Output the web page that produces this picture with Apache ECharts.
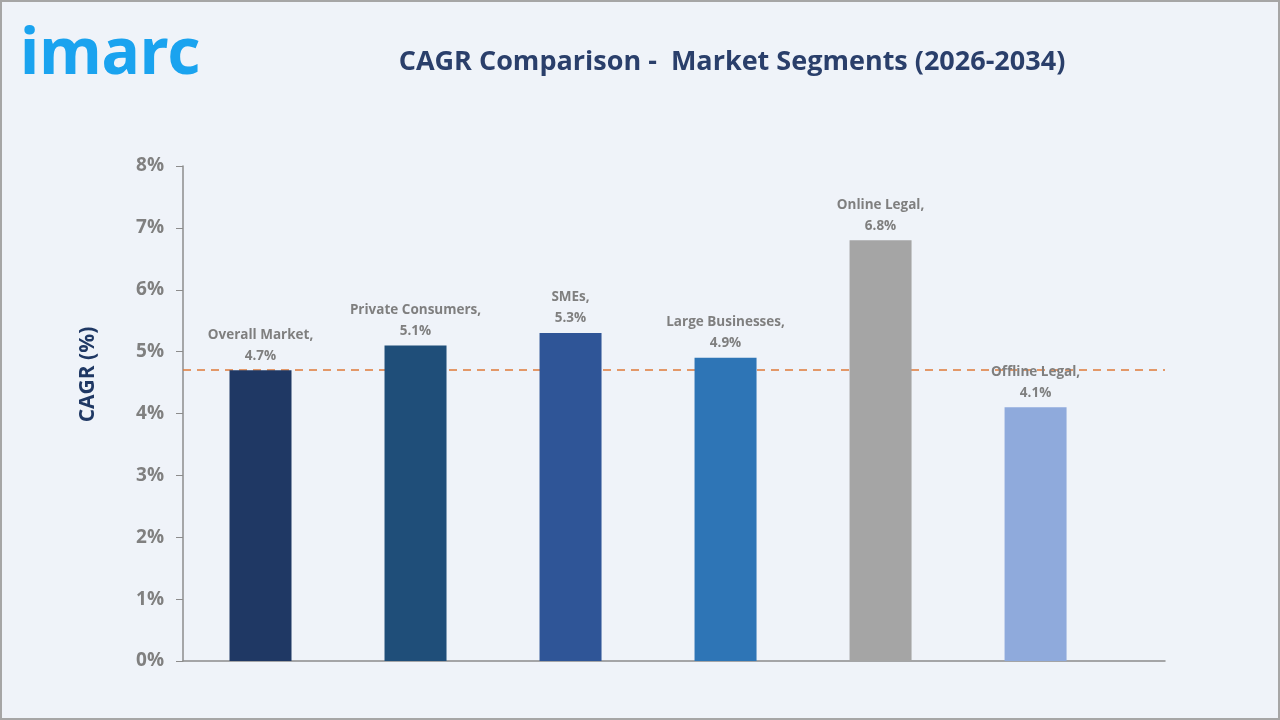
<!DOCTYPE html>
<html>
<head>
<meta charset="utf-8">
<script src="https://cdn.jsdelivr.net/npm/echarts@6/dist/echarts.min.js"></script>
<style>
html,body{margin:0;padding:0;background:#eff3f9;}
#frame{position:absolute;left:0;top:0;width:1276px;height:716px;border:2px solid #a6a6a6;background:#eff3f9;}
#chart{position:absolute;left:0;top:0;width:1280px;height:720px;}
</style>
</head>
<body>
<div id="frame"></div>
<div id="chart"></div>
<script>
const categories = ['Overall Market', 'Private Consumers', 'SMEs', 'Large Businesses', 'Online Legal', 'Offline Legal'];
const values = [4.7, 5.1, 5.3, 4.9, 6.8, 4.1];
const barColors = ['#1f3864', '#1f4e79', '#2f5597', '#2e75b6', '#a5a5a5', '#8faadc'];
const overallReference = 4.7;
const yTicks = [0, 1, 2, 3, 4, 5, 6, 7, 8];

const chart = echarts.init(document.getElementById('chart'));
const fontFam = '"Open Sans", "Noto Sans", sans-serif';
chart.setOption({
  backgroundColor: 'transparent',
  animation: false,
  title: [{
    text: 'CAGR Comparison -  Market Segments (2026-2034)',
    left: 727, top: 44, textAlign: 'center',
    textStyle: {color: '#2a3f6b', fontSize: 27, fontWeight: 'bold', fontFamily: fontFam}
  }, {
    text: 'imarc',
    left: 15, top: 19,
    textStyle: {color: '#1aa3ef', fontSize: 64, fontWeight: 'bold', fontFamily: '"Noto Sans", sans-serif'}
  }],
  grid: {left: 183, right: 115, top: 166, bottom: 59},
  xAxis: {
    type: 'value', min: -0.5, max: 5.835,
    axisLine: {show: true, onZero: false, lineStyle: {color: '#8c8c8c', width: 1.5}},
    axisTick: {show: false}, axisLabel: {show: false}, splitLine: {show: false}
  },
  yAxis: {
    type: 'value', min: 0, max: 8, interval: 1,
    name: 'CAGR (%)', nameLocation: 'middle', nameGap: 84, nameRotate: 90,
    nameTextStyle: {color: '#1f3864', fontSize: 21, fontWeight: 'bold', fontFamily: fontFam, padding: [0, 0, 0, 78]},
    axisLine: {show: true, onZero: false, lineStyle: {color: '#8c8c8c', width: 1.5}},
    axisTick: {show: true, length: 7, lineStyle: {color: '#8c8c8c'}},
    axisLabel: {color: '#808080', fontSize: 19, fontWeight: 'bold', fontFamily: fontFam, margin: 19,
      formatter: v => yTicks.includes(v) ? v + '%' : ''},
    splitLine: {show: false}
  },
  series: [{
    type: 'bar',
    barWidth: 62,
    data: values.map((v, i) => ({value: [i, v], name: categories[i], itemStyle: {color: barColors[i]}})),
    label: {
      show: true, position: 'top', distance: 4,
      color: '#7f7f7f', fontSize: 13.5, fontWeight: 'bold', fontFamily: fontFam, lineHeight: 21,
      formatter: p => p.name + ',\n' + p.value[1] + '%'
    },
    markLine: {
      silent: true, symbol: 'none', z: 1,
      lineStyle: {color: '#e07b39', type: [8, 6], width: 1.5},
      label: {show: false},
      data: [{yAxis: overallReference}]
    }
  }]
});
</script>
</body>
</html>
